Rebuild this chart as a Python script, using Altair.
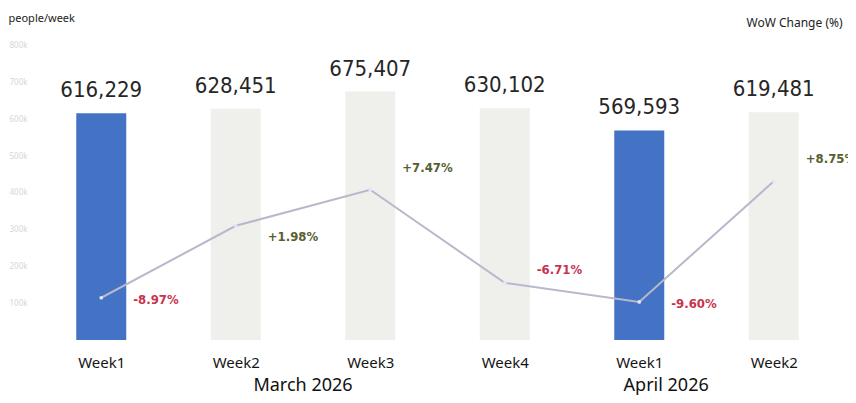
import json
import altair as alt
import pandas as pd

weeks = ["Week1", "Week2", "Week3", "Week4", "Week1", "Week2"]
visitors = [616229, 628451, 675407, 630102, 569593, 619481]
wow = [-8.97, 1.98, 7.47, -6.71, -9.60, 8.75]
highlight = [True, False, False, False, True, False]
months = ["March 2026", "April 2026"]
month_pos = [1.5, 4.2]

df = pd.DataFrame({
    "idx": list(range(len(weeks))),
    "week": weeks,
    "visitors": visitors,
    "wow": wow,
    "hl": highlight,
})
df["vlabel"] = df["visitors"].map(lambda v: f"{v:,}")
df["wlabel"] = df["wow"].map(lambda v: f"{v:+.2f}%")
mdf = pd.DataFrame({"month": months, "pos": month_pos})

H = 320
XDOM = [-0.5, 5.5]
YL = [0, 870000]
YR = [-15.4, 33.3]
PX = H / (YR[1] - YR[0])
COND = "DejaVu Sans Condensed, Liberation Sans Narrow, sans-serif"
SANS = "Noto Sans, sans-serif"

x_axis = alt.Axis(values=list(range(len(weeks))),
                  labelExpr=f"{json.dumps(weeks)}[datum.value]",
                  title=None, domain=False, ticks=False, grid=False,
                  labelFont=SANS, labelFontSize=15, labelColor="#151515",
                  labelPadding=15)
xs = alt.Scale(domain=XDOM, nice=False, zero=False)
X = alt.X("idx:Q", scale=xs, axis=x_axis)

base = alt.Chart(df)

bars = base.mark_bar(size=50).encode(
    x=X,
    y=alt.Y("visitors:Q", scale=alt.Scale(domain=YL, nice=False),
            axis=alt.Axis(values=[100000 * i for i in range(1, 9)], format="~s",
                          title="people/week", titleAngle=0, titleX=-21, titleY=-2,
                          titleAlign="left", titleBaseline="middle",
                          titleFont=SANS, titleFontSize=11, titleFontWeight="normal",
                          titleColor="#222222",
                          labelFont=SANS, labelFontSize=8, labelColor="#d6d6d6",
                          labelPadding=2, domain=False, ticks=False, grid=False)),
    color=alt.condition("datum.hl", alt.value("#4472c4"), alt.value("#efefec")),
)

vtext = base.mark_text(font=COND, fontSize=22, fontWeight="normal", color="#262626",
                       baseline="alphabetic", dy=-16).encode(
    x=X,
    y=alt.Y("visitors:Q", scale=alt.Scale(domain=YL, nice=False), axis=None),
    text="vlabel:N",
)

line = base.mark_line(color="#b8b8cc", strokeWidth=2).encode(
    x=X,
    y=alt.Y("wow:Q", scale=alt.Scale(domain=YR, nice=False, zero=False),
            axis=alt.Axis(orient="right", labels=False, ticks=False, domain=False,
                          grid=False, title="WoW Change (%)", titleAngle=0,
                          titleX=-100, titleY=2, titleAlign="left",
                          titleBaseline="middle", titleFont=SANS, titleFontSize=12,
                          titleFontWeight="normal", titleColor="#222222")),
)

pts = base.mark_circle(size=14, color="#dce8fa", opacity=1).encode(
    x=X,
    y=alt.Y("wow:Q", scale=alt.Scale(domain=YR, nice=False, zero=False), axis=None),
)

wtext = base.transform_calculate(
    off="datum.wow > 5 ? -22 : (datum.wow > 0 ? 11 : (datum.wow > -7 ? -13 : 2))"
).transform_calculate(
    ylab=f"datum.wow - datum.off / {PX}"
).mark_text(font=COND, fontSize=13, fontWeight="bold", align="left",
            baseline="middle", dx=32).encode(
    x=X,
    y=alt.Y("ylab:Q", scale=alt.Scale(domain=YR, nice=False, zero=False), axis=None),
    text="wlabel:N",
    color=alt.condition("datum.wow < 0", alt.value("#c8334d"), alt.value("#56602f")),
)

mtext = alt.Chart(mdf).mark_text(font=SANS, fontSize=18, color="#111111",
                                 baseline="alphabetic").encode(
    x=alt.X("pos:Q", scale=xs, axis=x_axis),
    y=alt.value(371),
    text="month:N",
)

chart = alt.layer(bars, vtext, line, pts, wtext, mtext).resolve_scale(
    y="independent"
).properties(
    width=817, height=H,
    autosize=alt.AutoSizeParams(type="none"),
    padding={"left": 21, "top": 12, "right": 2, "bottom": 55},
    background="white",
).configure_view(stroke=None)

chart.save("out.html", embed_options={"renderer": "svg", "actions": False})
